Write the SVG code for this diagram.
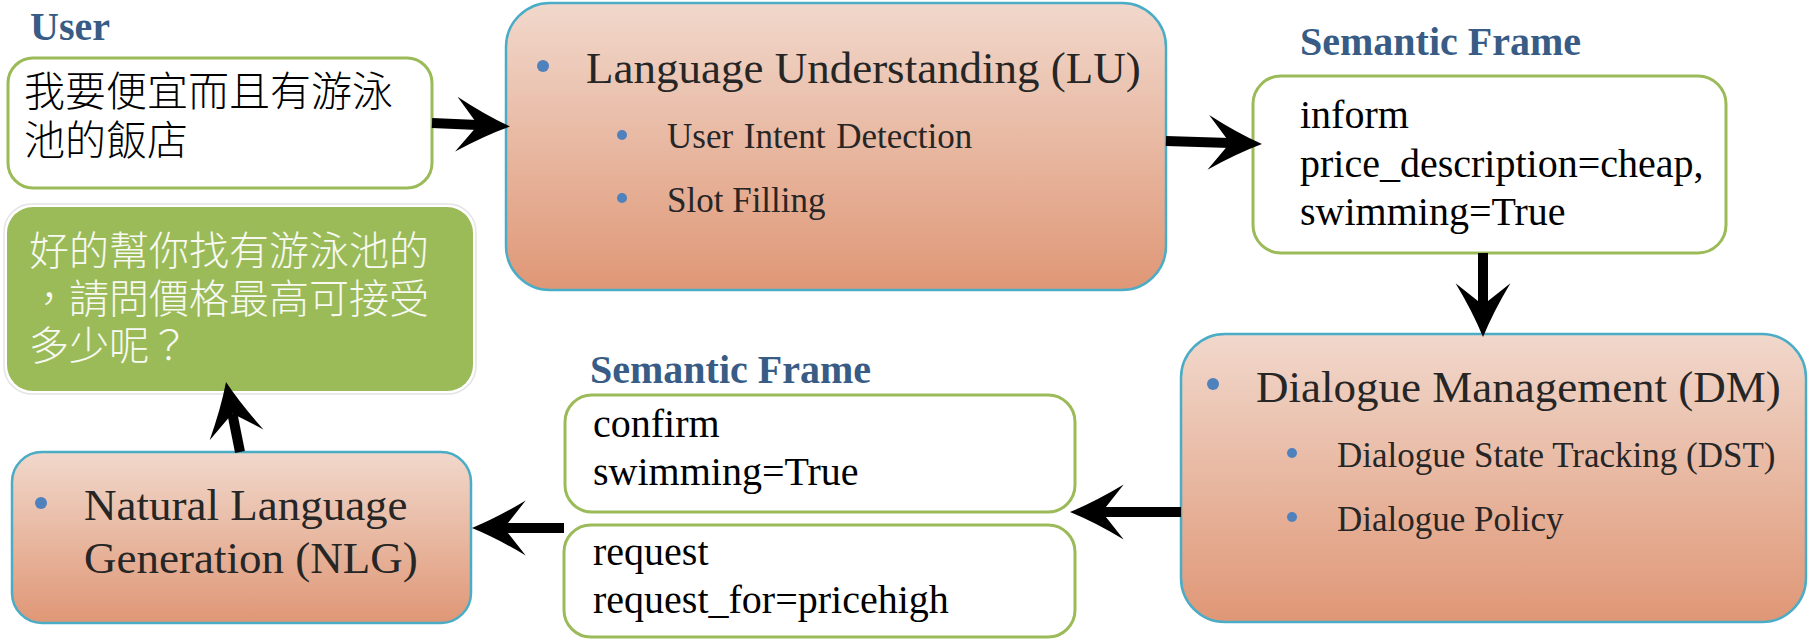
<svg xmlns="http://www.w3.org/2000/svg" width="1816" height="639" viewBox="0 0 1816 639">
<defs>
<linearGradient id="og" x1="0" y1="0" x2="0" y2="1">
<stop offset="0" stop-color="#F1D8CC"/>
<stop offset="1" stop-color="#DF9776"/>
</linearGradient>
<marker id="ah" markerUnits="userSpaceOnUse" markerWidth="80" markerHeight="80" viewBox="-30 -30 70 60" refX="0" refY="0" orient="auto" overflow="visible">
<path d="M28,0 Q6,-9 -19,-24 L0,0 L-19,24 Q6,9 28,0 Z" fill="#000"/>
</marker>
<style>
.ser{font-family:"Liberation Serif","Times New Roman",serif}
.lbl{font-family:"Liberation Serif","Times New Roman",serif;font-weight:bold;font-size:40px;fill:#385C85}
.cjk{font-family:"Noto Sans CJK TC","Noto Sans CJK SC",sans-serif;font-size:40px;font-weight:300}
.obox{fill:url(#og);stroke:#4BACC6;stroke-width:2.5}
.gbox{fill:#fff;stroke:#9BBB59;stroke-width:3}
.main{font-size:45px;fill:#262626}
.sub{font-size:35px;fill:#262626}
.frame{font-size:40px;fill:#000}
.dot{fill:#4F81BD}
.conn{stroke:#000;stroke-width:10;fill:none;marker-end:url(#ah)}
</style>
</defs>

<text class="lbl" x="30" y="40">User</text>
<text class="lbl" x="1300" y="55">Semantic Frame</text>
<text class="lbl" x="590" y="383">Semantic Frame</text>

<g id="user">
<rect class="gbox" x="8" y="58" width="424" height="130" rx="25"/>
<text class="cjk" x="24" y="106" fill="#000" style="font-size:41px">我要便宜而且有游泳</text>
<text class="cjk" x="24" y="155" fill="#000" style="font-size:41px">池的飯店</text>
</g>

<g id="reply">
<rect x="4" y="204" width="472" height="190" rx="28" fill="#fff" stroke="#E4E4E4" stroke-width="1.5"/>
<rect x="7" y="207" width="466" height="184" rx="26" fill="#9BBB59"/>
<text class="cjk" x="29" y="265" fill="#F7F9F2">好的幫你找有游泳池的</text>
<text class="cjk" x="29" y="313" fill="#F7F9F2">，請問價格最高可接受</text>
<text class="cjk" x="29" y="360" fill="#F7F9F2">多少呢？</text>
</g>

<g id="lu">
<rect class="obox" x="506" y="3" width="660" height="287" rx="44"/>
<circle class="dot" cx="543" cy="66" r="6"/>
<text class="ser main" x="586" y="83">Language Understanding (LU)</text>
<circle class="dot" cx="622" cy="135" r="5"/>
<text class="ser sub" x="667" y="148" word-spacing="2">User Intent Detection</text>
<circle class="dot" cx="622" cy="198" r="5"/>
<text class="ser sub" x="667" y="212">Slot Filling</text>
</g>

<g id="frame1">
<rect class="gbox" x="1253" y="76" width="473" height="177" rx="28"/>
<text class="ser frame" x="1300" y="128">inform</text>
<text class="ser frame" x="1300" y="177">price_description=cheap,</text>
<text class="ser frame" x="1300" y="225">swimming=True</text>
</g>

<g id="dm">
<rect class="obox" x="1181" y="334" width="625" height="288" rx="44"/>
<circle class="dot" cx="1213" cy="384" r="6"/>
<text class="ser main" x="1256" y="402">Dialogue Management (DM)</text>
<circle class="dot" cx="1292" cy="453" r="5"/>
<text class="ser sub" x="1337" y="467">Dialogue State Tracking (DST)</text>
<circle class="dot" cx="1292" cy="517" r="5"/>
<text class="ser sub" x="1337" y="531">Dialogue Policy</text>
</g>

<g id="frame2a">
<rect class="gbox" x="565" y="395" width="510" height="117" rx="27"/>
<text class="ser frame" x="593" y="437">confirm</text>
<text class="ser frame" x="593" y="485">swimming=True</text>
</g>

<g id="frame2b">
<rect class="gbox" x="564" y="525" width="511" height="112" rx="27"/>
<text class="ser frame" x="593" y="565">request</text>
<text class="ser frame" x="593" y="613">request_for=pricehigh</text>
</g>

<g id="nlg">
<rect class="obox" x="12" y="452" width="459" height="171" rx="30"/>
<circle class="dot" cx="41" cy="503" r="6"/>
<text class="ser main" x="84" y="520">Natural Language</text>
<text class="ser main" x="84" y="573">Generation (NLG)</text>
</g>

<g id="connectors">
<line class="conn" x1="432" y1="123" x2="478" y2="125"/>
<line class="conn" x1="1166" y1="141" x2="1230" y2="143"/>
<line class="conn" x1="1483" y1="253" x2="1483" y2="305"/>
<line class="conn" x1="1181" y1="512" x2="1102" y2="512"/>
<line class="conn" x1="564" y1="528" x2="504" y2="528"/>
<line class="conn" x1="240" y1="452" x2="232.3" y2="413.5"/>
</g>
</svg>
